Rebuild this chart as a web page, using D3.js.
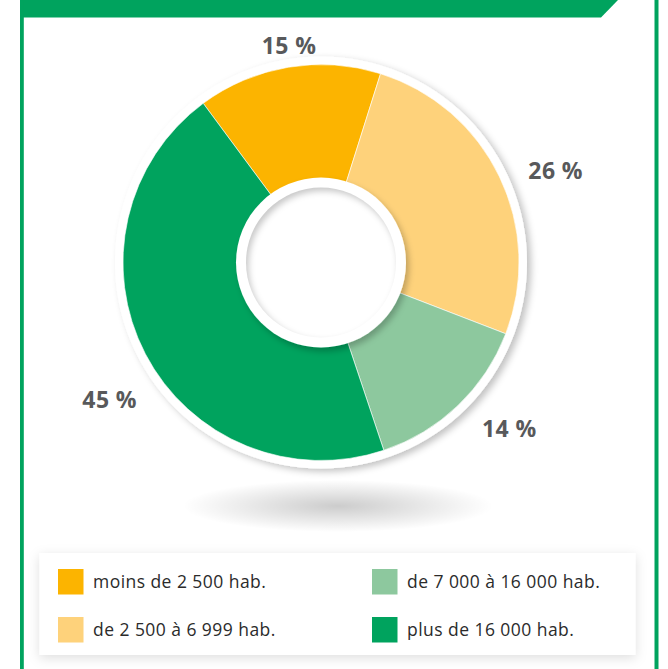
<!DOCTYPE html>
<html>
<head>
<meta charset="utf-8">
<script src="https://cdn.jsdelivr.net/npm/d3@7"></script>
<style>
  html, body { margin: 0; padding: 0; background: #fff; }
  svg { display: block; }
</style>
</head>
<body>
<svg id="chart" width="668" height="669"></svg>
<script>
// Répartition des communes par taille
const categories = ["moins de 2 500 hab.", "de 2 500 à 6 999 hab.", "de 7 000 à 16 000 hab.", "plus de 16 000 hab."];
const values = [15, 26, 14, 45];
const valueLabels = ["15 %", "26 %", "14 %", "45 %"];
const colors = ["#FCB400", "#FED27B", "#8DC89E", "#00A35E"];

// label placement around the ring: radial distance and angular nudge (degrees)
const labelRadius = [219, 252, 251, 252];
const labelNudge = [1.1, 4.3, -4.9, -5.5];

const W = 668, H = 669;
const cx = 321, cy = 262.5;
const rOuter = 198, rHoleRing = 85, rHole = 75;
const green = "#00A35E";
const start = -36.5 * Math.PI / 180;

const svg = d3.select("#chart");
const defs = svg.append("defs");

// drop shadows
const mkShadow = (id, dx, dy, sd, op) => {
  const f = defs.append("filter").attr("id", id)
    .attr("x", "-20%").attr("y", "-20%").attr("width", "140%").attr("height", "140%");
  f.append("feDropShadow").attr("dx", dx).attr("dy", dy)
    .attr("stdDeviation", sd).attr("flood-color", "#000").attr("flood-opacity", op);
};
mkShadow("ringShadow", 4, 3, 3.5, 0.24);
mkShadow("holeShadow", 3, 4, 3, 0.24);
mkShadow("boxShadow", 0, 3, 6, 0.13);

defs.append("filter").attr("id", "blur3")
  .append("feGaussianBlur").attr("stdDeviation", 3);

// floor shadow under the donut
const floor = defs.append("radialGradient").attr("id", "floorGrad");
floor.append("stop").attr("offset", "0%").attr("stop-color", "#000").attr("stop-opacity", 0.2);
floor.append("stop").attr("offset", "55%").attr("stop-color", "#000").attr("stop-opacity", 0.09);
floor.append("stop").attr("offset", "100%").attr("stop-color", "#000").attr("stop-opacity", 0);

defs.append("clipPath").attr("id", "holeClip")
  .append("circle").attr("cx", cx).attr("cy", cy).attr("r", rHole);

// frame: top banner with a slanted end, side rules
svg.append("path")
  .attr("d", `M20,0 L618,0 L601,17.5 L20,17.5 Z`)
  .attr("fill", green);
svg.append("rect").attr("x", 20).attr("y", 0).attr("width", 3.8).attr("height", H).attr("fill", green);
svg.append("rect").attr("x", 654.5).attr("y", 0).attr("width", 4).attr("height", H).attr("fill", green);

svg.append("ellipse")
  .attr("cx", 338).attr("cy", 506).attr("rx", 155).attr("ry", 26)
  .attr("fill", "url(#floorGrad)");

// outer white rim
svg.append("circle").attr("cx", cx).attr("cy", cy).attr("r", rOuter + 8)
  .attr("fill", "#fff").attr("filter", "url(#ringShadow)");

const pie = d3.pie().sort(null)
  .startAngle(start)
  .endAngle(start + 2 * Math.PI);
const arcs = pie(values);
const arc = d3.arc().innerRadius(0).outerRadius(rOuter);

const g = svg.append("g").attr("transform", `translate(${cx},${cy})`);
g.selectAll("path.slice")
  .data(arcs)
  .join("path")
  .attr("class", "slice")
  .attr("d", arc)
  .attr("fill", (d, i) => colors[i])
  .attr("stroke", "#fff")
  .attr("stroke-width", 0.6);

// centre hole: raised white ring and recessed disc
svg.append("circle").attr("cx", cx).attr("cy", cy).attr("r", rHoleRing)
  .attr("fill", "#fff").attr("filter", "url(#holeShadow)");
svg.append("circle").attr("cx", cx).attr("cy", cy).attr("r", rHole).attr("fill", "#fff");
svg.append("g").attr("clip-path", "url(#holeClip)")
  .append("circle")
  .attr("cx", cx + 2.5).attr("cy", cy + 3.5).attr("r", rHole + 6)
  .attr("fill", "none").attr("stroke", "#000").attr("stroke-opacity", 0.22)
  .attr("stroke-width", 12).attr("filter", "url(#blur3)");

// percentage labels
g.selectAll("text.pct")
  .data(arcs)
  .join("text")
  .attr("class", "pct")
  .attr("transform", (d, i) => {
    const a = (d.startAngle + d.endAngle) / 2 + labelNudge[i] * Math.PI / 180;
    const r = labelRadius[i];
    return `translate(${r * Math.sin(a)},${-r * Math.cos(a)})`;
  })
  .attr("text-anchor", "middle")
  .attr("dy", "0.36em")
  .attr("font-family", "'Open Sans', sans-serif")
  .attr("font-weight", 700)
  .attr("font-size", 23)
  .attr("letter-spacing", 0.4)
  .attr("fill", "#58595B")
  .text((d, i) => valueLabels[i]);

// legend
svg.append("rect")
  .attr("x", 39.5).attr("y", 553).attr("width", 596).attr("height", 102)
  .attr("fill", "#fff").attr("filter", "url(#boxShadow)");

const colX = d3.scaleOrdinal().domain([0, 1]).range([58, 372]);
const rowY = d3.scaleOrdinal().domain([0, 1]).range([569, 617]);
const legendCol = [0, 0, 1, 1];
const legendRow = [0, 1, 0, 1];

const items = svg.append("g").selectAll("g.item")
  .data(categories)
  .join("g")
  .attr("class", "item")
  .attr("transform", (d, i) => `translate(${colX(legendCol[i])},${rowY(legendRow[i])})`);
items.append("rect")
  .attr("width", 25.5).attr("height", 25.5)
  .attr("fill", (d, i) => colors[i]);
items.append("text")
  .attr("x", 35).attr("y", 19)
  .attr("font-family", "'Open Sans', sans-serif")
  .attr("font-size", 17.5)
  .attr("letter-spacing", 0.45)
  .attr("fill", "#2b2b2b")
  .text(d => d);
</script>
</body>
</html>
